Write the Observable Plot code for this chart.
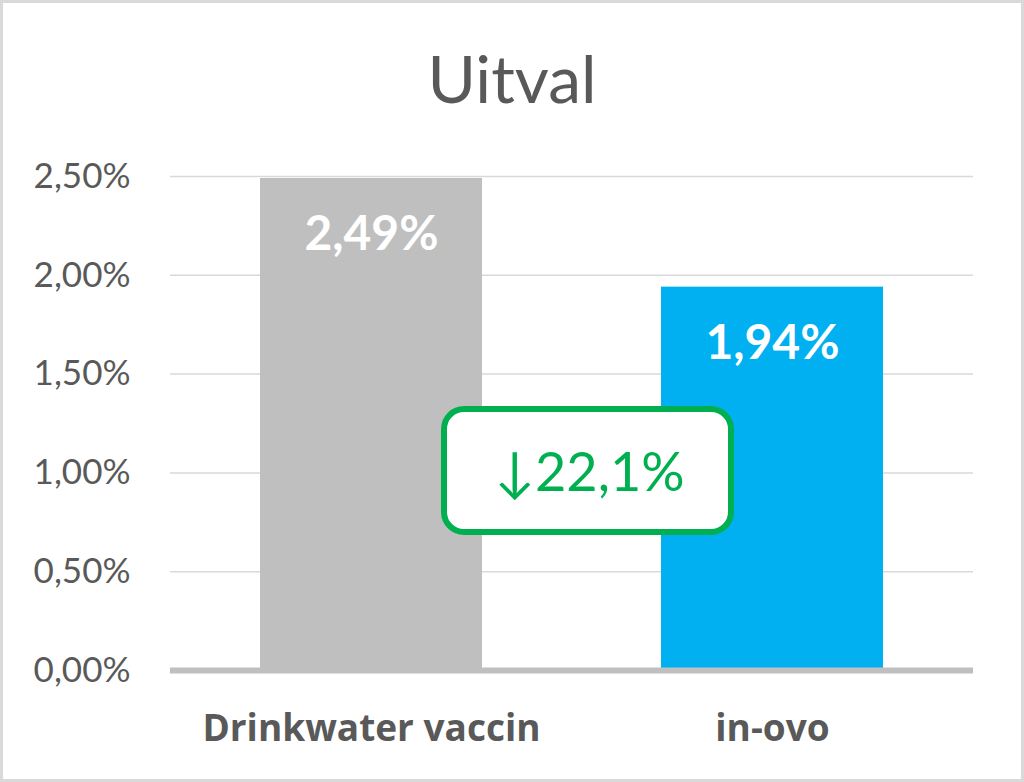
<!DOCTYPE html>
<html>
<head>
<meta charset="utf-8">
<script src="https://cdn.jsdelivr.net/npm/d3@7"></script>
<script src="https://cdn.jsdelivr.net/npm/@observablehq/plot@0.6"></script>
<style>
  html, body { margin: 0; padding: 0; background: #fff; }
  #wrap { position: relative; width: 1024px; height: 782px; overflow: hidden; background: #fff; font-family: Lato, "Open Sans", sans-serif; }
  #frame { position: absolute; left: 0; top: 0; width: 1024px; height: 782px; box-sizing: border-box; border: 3px solid #d9d9d9; pointer-events: none; }
  #title { height: 130px; box-sizing: border-box; padding-top: 40px; text-align: center; font-size: 66px; line-height: 76px; color: #595959; font-weight: 400; }
  #chart svg { display: block; }
</style>
</head>
<body>
<div id="wrap">
  <div id="title">Uitval</div>
  <div id="chart"></div>
  <div id="frame"></div>
</div>
<script>
const categories = ["Drinkwater vaccin", "in-ovo"];
const values = [0.0249, 0.0194];
const barColors = ["#bfbfbf", "#00b0f0"];
const yTicks = [0, 0.005, 0.01, 0.015, 0.02, 0.025];
const annotationY = 0.0101;

const nl = d3.formatLocale({decimal: ",", thousands: ".", grouping: [3], currency: ["€", ""]});
const pct2 = nl.format(".2%");
const pct1 = nl.format(".1%");

const data = categories.map((c, i) => ({cat: c, value: values[i], color: barColors[i]}));
const reduction = (values[0] - values[1]) / values[0];
const annotationText = "\u2193" + pct1(reduction);

function annotationMark(index, scales) {
  const g = d3.create("svg:g");
  const x0 = scales.x(categories[0]) + scales.x.bandwidth();
  const x1 = scales.x(categories[1]);
  const cx = (x0 + x1) / 2 + 16;
  const cy = scales.y(annotationY);
  const w = 287, h = 123;
  g.append("rect")
    .attr("x", cx - w / 2).attr("y", cy - h / 2)
    .attr("width", w).attr("height", h)
    .attr("rx", 20).attr("ry", 20)
    .attr("fill", "#ffffff")
    .attr("stroke", "#00b050")
    .attr("stroke-width", 6);
  g.append("text")
    .attr("x", cx + 2).attr("y", cy)
    .attr("text-anchor", "middle")
    .attr("dominant-baseline", "central")
    .attr("fill", "#00b050")
    .attr("font-size", 54)
    .attr("font-family", "Lato, sans-serif")
    .text(annotationText);
  return g.node();
}

const chart = Plot.plot({
  width: 1024,
  height: 652,
  marginTop: 46,
  marginBottom: 112,
  marginLeft: 170,
  marginRight: 51,
  style: {fontFamily: "Lato, sans-serif", color: "#595959", background: "transparent"},
  x: {domain: categories, paddingInner: 0.447, paddingOuter: 0.2235, label: null},
  y: {domain: [0, 0.025], label: null},
  marks: [
    Plot.gridY(yTicks.filter(d => d > 0), {stroke: "#d9d9d9", strokeOpacity: 1, strokeWidth: 1.5}),
    Plot.barY(data, {x: "cat", y: "value", fill: "color"}),
    Plot.ruleY([0], {stroke: "#bfbfbf", strokeWidth: 6}),
    Plot.text(data, {x: "cat", y: "value", text: d => pct2(d.value), dy: 56, fill: "#ffffff", fontWeight: "bold", fontSize: 48}),
    Plot.axisY({ticks: yTicks, tickFormat: pct2, tickSize: 0, tickPadding: 40, fontSize: 35, fill: "#595959", label: null}),
    Plot.axisX({tickSize: 0, tickPadding: 44, fontSize: 37, fontWeight: "bold", fontFamily: "Open Sans, sans-serif", fill: "#595959", label: null}),
    annotationMark
  ]
});
document.getElementById("chart").appendChild(chart);
</script>
</body>
</html>
